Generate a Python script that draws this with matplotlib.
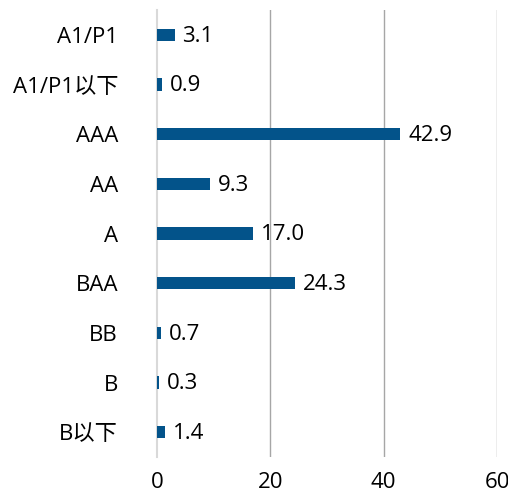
import matplotlib
matplotlib.use("Agg")
import matplotlib.pyplot as plt

categories = ["A1/P1", "A1/P1以下", "AAA", "AA", "A", "BAA", "BB", "B", "B以下"]
values = [3.1, 0.9, 42.9, 9.3, 17.0, 24.3, 0.7, 0.3, 1.4]
xticks = [0, 20, 40, 60]

plt.rcParams['font.family'] = ['Open Sans', 'Noto Sans CJK SC', 'DejaVu Sans']

fig = plt.figure(figsize=(5.08, 4.94), dpi=100)
ax = fig.add_axes([157/508, 1-457/494, (497-157)/508, (457-10)/494])

color = "#03538a"
ypos = list(range(len(categories)))
ax.barh(ypos, values, height=0.25, color=color, zorder=3)
for y, v in zip(ypos, values):
    ax.text(v + 1.4, y + 0.03, f"{v:.1f}", va="center", ha="left", fontsize=16, color="#000000")

ax.set_xlim(0, 60)
ax.set_ylim(len(categories) - 0.5, -0.5)
ax.set_yticks(ypos)
ax.set_yticklabels(categories, fontsize=16, color="#000000")
ax.set_xticks(xticks)
ax.set_xticklabels([str(t) for t in xticks], fontsize=16, color="#000000")
ax.tick_params(axis="y", length=0, pad=28)
ax.tick_params(axis="x", length=0, pad=11)

for s in ["top", "right", "bottom"]:
    ax.spines[s].set_visible(False)
ax.spines["left"].set_color("#d9d9d9")
ax.spines["left"].set_linewidth(1.5)

for t in xticks[1:]:
    ax.axvline(t, color="#a6a6a6", linewidth=1.0, zorder=1)

fig.savefig("out.png", dpi=100)
